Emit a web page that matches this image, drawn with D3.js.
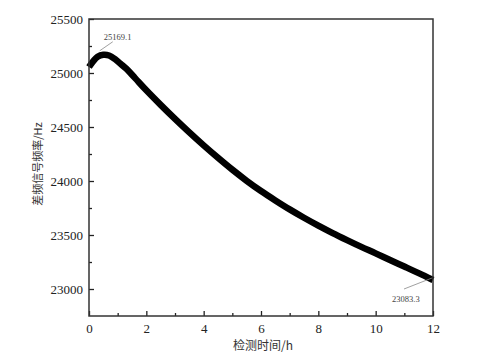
<!DOCTYPE html>
<html><head><meta charset="utf-8">
<script src="https://cdn.jsdelivr.net/npm/d3@7/dist/d3.min.js"></script>
<style>body{margin:0;background:#fff}svg{display:block}</style>
</head><body>
<svg id="c" width="487" height="361"></svg>
<script>
const timeH = [0,0.15,0.3,0.5,0.7,0.9,1.1,1.3,1.6,2.0,2.5,3.0,3.5,4.0,4.5,5.0,5.5,6.0,6.5,7.0,7.5,8.0,8.5,9.0,9.5,10,10.5,11,11.5,12];
const freqHz = [25055,25110,25150,25168,25162,25130,25085,25040,24955,24840,24705,24575,24450,24330,24215,24105,24002,23907,23820,23737,23660,23587,23518,23453,23390,23330,23268,23208,23147,23083];
const xTicks = [0,2,4,6,8,10,12];
const yTicks = [23000,23500,24000,24500,25000,25500];
const annotations = [{t:0.55,v:25169.1,label:"25169.1"},{t:12,v:23083.3,label:"23083.3"}];

const svg = d3.select("#c");
const L=89,R=433,T=19,B=316;
const x = d3.scaleLinear().domain([0,12]).range([L,R]);
const y = d3.scaleLinear().domain([22750,25500]).range([B,T]);
const serif = "Liberation Serif";
const cjk = "Noto Sans CJK SC";

// curve
svg.append("path").datum(timeH.map((t,i)=>[t,freqHz[i]]))
  .attr("fill","none").attr("stroke","#000").attr("stroke-width",6.5)
  .attr("stroke-linejoin","round").attr("stroke-linecap","butt")
  .attr("d",d3.line().x(d=>x(d[0])).y(d=>y(d[1])).curve(d3.curveCatmullRom));

// axes
const ax = svg.append("g").attr("transform",`translate(0,${B})`)
  .call(d3.axisBottom(x).tickValues(xTicks).tickSize(-5).tickPadding(8).tickFormat(d3.format("d")));
const ay = svg.append("g").attr("transform",`translate(${L},0)`)
  .call(d3.axisLeft(y).tickValues(yTicks).tickSize(-5).tickPadding(6).tickFormat(d3.format("d")));
const axm = svg.append("g").attr("transform",`translate(0,${B})`)
  .call(d3.axisBottom(x).tickValues(d3.range(1,12,2)).tickSize(-3).tickFormat(""));
const aym = svg.append("g").attr("transform",`translate(${L},0)`)
  .call(d3.axisLeft(y).tickValues(d3.range(23250,25500,500)).tickSize(-3).tickFormat(""));
[ax,ay,axm,aym].forEach(g=>{g.attr("font-family",serif).attr("font-size",13);g.select(".domain").remove();g.selectAll("line").attr("stroke","#222").attr("stroke-width",1.3);});
[ax,ay].forEach(g=>g.selectAll("text").attr("font-family",serif).attr("font-size",13).attr("fill","#222"));

// frame
svg.append("rect").attr("x",L).attr("y",T).attr("width",R-L).attr("height",B-T)
  .attr("fill","none").attr("stroke","#333").attr("stroke-width",1.5);

// annotations
const a0=annotations[0], a1=annotations[1];
svg.append("line").attr("x1",x(a0.t)-5).attr("y1",y(a0.v)-4).attr("x2",x(a0.t)+8).attr("y2",y(a0.v)-13)
  .attr("stroke","#888").attr("stroke-width",0.8);
svg.append("text").attr("font-family",serif).attr("font-size",8.5).attr("x",x(a0.t)-1).attr("y",y(a0.v)-15).text(a0.label)
  .attr("fill","#444");
svg.append("line").attr("x1",x(a1.t)-1).attr("y1",y(a1.v)-2).attr("x2",x(a1.t)-29).attr("y2",y(a1.v)+9)
  .attr("stroke","#888").attr("stroke-width",0.8);
svg.append("text").attr("font-family",serif).attr("font-size",8.5).attr("x",x(a1.t)-41).attr("y",y(a1.v)+22).text(a1.label)
  .attr("fill","#444");

// axis titles
svg.append("text").attr("font-family",cjk).attr("font-size",12).attr("x",263).attr("y",350).attr("text-anchor","middle")
  .attr("fill","#333").text("检测时间/h");
svg.append("text").attr("font-family",cjk).attr("font-size",11).attr("transform","translate(42,164) rotate(-90)").attr("text-anchor","middle")
  .attr("fill","#333").text("差频信号频率/Hz");
</script>
</body></html>
